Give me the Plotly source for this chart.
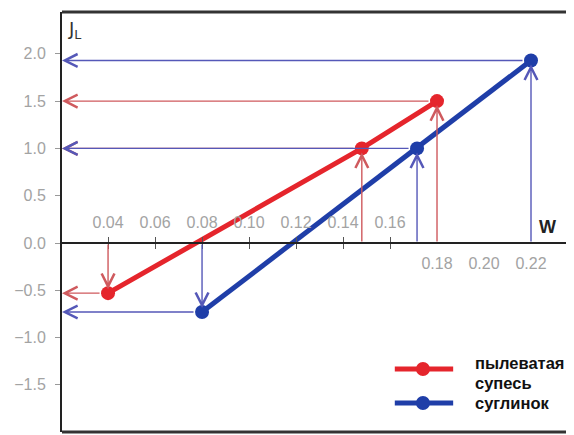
import plotly.graph_objects as go

# ---- data ----
W_red = [0.04, 0.148, 0.18]
IL_red = [-0.53, 1.0, 1.5]
W_blue = [0.08, 0.1715, 0.22]
IL_blue = [-0.73, 1.0, 1.93]

y_ticks = [-1.5, -1.0, -0.5, 0.0, 0.5, 1.0, 1.5, 2.0]
x_ticks_upper = [0.04, 0.06, 0.08, 0.10, 0.12, 0.14, 0.16]
x_ticks_lower = [0.18, 0.20, 0.22]

name_red_lines = ["пылеватая", "супесь"]
name_blue_lines = ["суглинок"]
x_label = "W"
y_label = "J<sub>L</sub>"

# ---- styling ----
X_RANGE = [0.0204, 0.2383]
Y_RANGE = [-1.998, 2.442]
zero_pos = (0 - Y_RANGE[0]) / (Y_RANGE[1] - Y_RANGE[0])

RED = "#e5252c"
BLUE = "#1f3ea8"
RED_THIN = "#cf5a5e"
BLUE_THIN = "#5558b8"
TICK_GRAY = "#a3a3a3"
FONT = "Liberation Sans"

fig = go.Figure()

fig.add_trace(go.Scatter(x=W_red, y=IL_red, mode="lines+markers",
                         line=dict(color=RED, width=5),
                         marker=dict(color=RED, size=14),
                         showlegend=False, hoverinfo="skip"))
fig.add_trace(go.Scatter(x=W_blue, y=IL_blue, mode="lines+markers",
                         line=dict(color=BLUE, width=5),
                         marker=dict(color=BLUE, size=14),
                         showlegend=False, hoverinfo="skip"))
# dummy traces so that the extra x axes are drawn
for ax_id in ("x2", "x3"):
    fig.add_trace(go.Scatter(x=[None], y=[None], xaxis=ax_id, yaxis="y",
                             showlegend=False, hoverinfo="skip"))

annotations = []
for Ws, ILs, col in ((W_red, IL_red, RED_THIN), (W_blue, IL_blue, BLUE_THIN)):
    for w, il in zip(Ws, ILs):
        # vertical arrow from the W axis to the point
        annotations.append(dict(x=w, y=il, ax=w, ay=0, xref="x", yref="y",
                                axref="x", ayref="y", text="", showarrow=True,
                                arrowhead=5, arrowsize=1.8, arrowwidth=1.4,
                                arrowcolor=col, standoff=4))
        # horizontal arrow from the point to the J_L axis
        annotations.append(dict(x=X_RANGE[0], y=il, ax=w, ay=il, xref="x", yref="y",
                                axref="x", ayref="y", text="", showarrow=True,
                                arrowhead=5, arrowsize=1.8, arrowwidth=1.4,
                                arrowcolor=col, standoff=0, startstandoff=7))

annotations.append(dict(x=0.949, y=0.488, xref="paper", yref="paper", text="<b>%s</b>" % x_label,
                        showarrow=False, xanchor="center", yanchor="middle",
                        font=dict(family=FONT, size=18, color="#222")))
annotations.append(dict(x=0.008, y=0.99, xref="paper", yref="paper", text=y_label,
                        showarrow=False, xanchor="left", yanchor="top",
                        font=dict(family="DejaVu Sans", size=18, color="#333")))

# legend (manual)
leg_x0, leg_x1, leg_xm = 0.650, 0.764, 0.705
leg_y_red, leg_y_blue = 0.150, 0.069
text_x = 0.802
shapes = []
for yy, col in ((leg_y_red, RED), (leg_y_blue, BLUE)):
    shapes.append(dict(type="line", xref="paper", yref="paper", x0=leg_x0, x1=leg_x1,
                       y0=yy, y1=yy, line=dict(color=col, width=5)))
    shapes.append(dict(type="circle", xref="paper", yref="paper",
                       xsizemode="pixel", ysizemode="pixel", xanchor=leg_xm, yanchor=yy,
                       x0=-7, x1=7, y0=-7, y1=7, fillcolor=col, line=dict(width=0)))
for txt, yy in zip(name_red_lines + name_blue_lines, [0.164, 0.117, leg_y_blue]):
    annotations.append(dict(x=text_x, y=yy, xref="paper", yref="paper", text="<b>%s</b>" % txt,
                            showarrow=False, xanchor="left", yanchor="middle",
                            font=dict(family=FONT, size=16.5, color="#111")))

# frame: top and bottom lines
for yy in (0, 1):
    shapes.append(dict(type="line", xref="paper", yref="paper", x0=0, x1=1, y0=yy, y1=yy,
                       line=dict(color="#333", width=3)))

tickfont = dict(family=FONT, size=16, color=TICK_GRAY)

# the page body keeps its default 8px margin, so the figure is offset by (8, 8)
fig.update_layout(
    width=574, height=435,
    margin=dict(l=54, r=8, t=4, b=11),
    plot_bgcolor="white", paper_bgcolor="white",
    hovermode=False,
    xaxis=dict(range=X_RANGE, anchor="free", position=zero_pos, side="top",
               tickvals=x_ticks_upper, ticktext=["%.2f" % v for v in x_ticks_upper],
               ticks="outside", ticklen=5, tickwidth=1, tickcolor="#555",
               showline=True, linecolor="#222", linewidth=2,
               showgrid=False, zeroline=False, tickfont=tickfont,
               ticklabelstandoff=3, fixedrange=True),
    xaxis2=dict(range=X_RANGE, overlaying="x", anchor="free", position=zero_pos, side="bottom",
                tickvals=x_ticks_lower, ticktext=["%.2f" % v for v in x_ticks_lower],
                ticks="", showline=False, showgrid=False, zeroline=False,
                tickfont=tickfont, ticklabelstandoff=9, fixedrange=True),
    xaxis3=dict(range=X_RANGE, overlaying="x", anchor="free", position=zero_pos, side="bottom",
                tickvals=x_ticks_upper, showticklabels=False,
                ticks="outside", ticklen=5, tickwidth=1, tickcolor="#555",
                showline=False, showgrid=False, zeroline=False, fixedrange=True),
    yaxis=dict(range=Y_RANGE, tickvals=y_ticks, tickformat=".1f",
               ticks="outside", ticklen=5, tickwidth=1, tickcolor="#999",
               showline=True, linecolor="#222", linewidth=2,
               showgrid=False, zeroline=False, tickfont=tickfont,
               ticklabelstandoff=6, fixedrange=True),
    annotations=annotations,
    shapes=shapes,
)

fig.write_html("out.html", config={"displayModeBar": False})
